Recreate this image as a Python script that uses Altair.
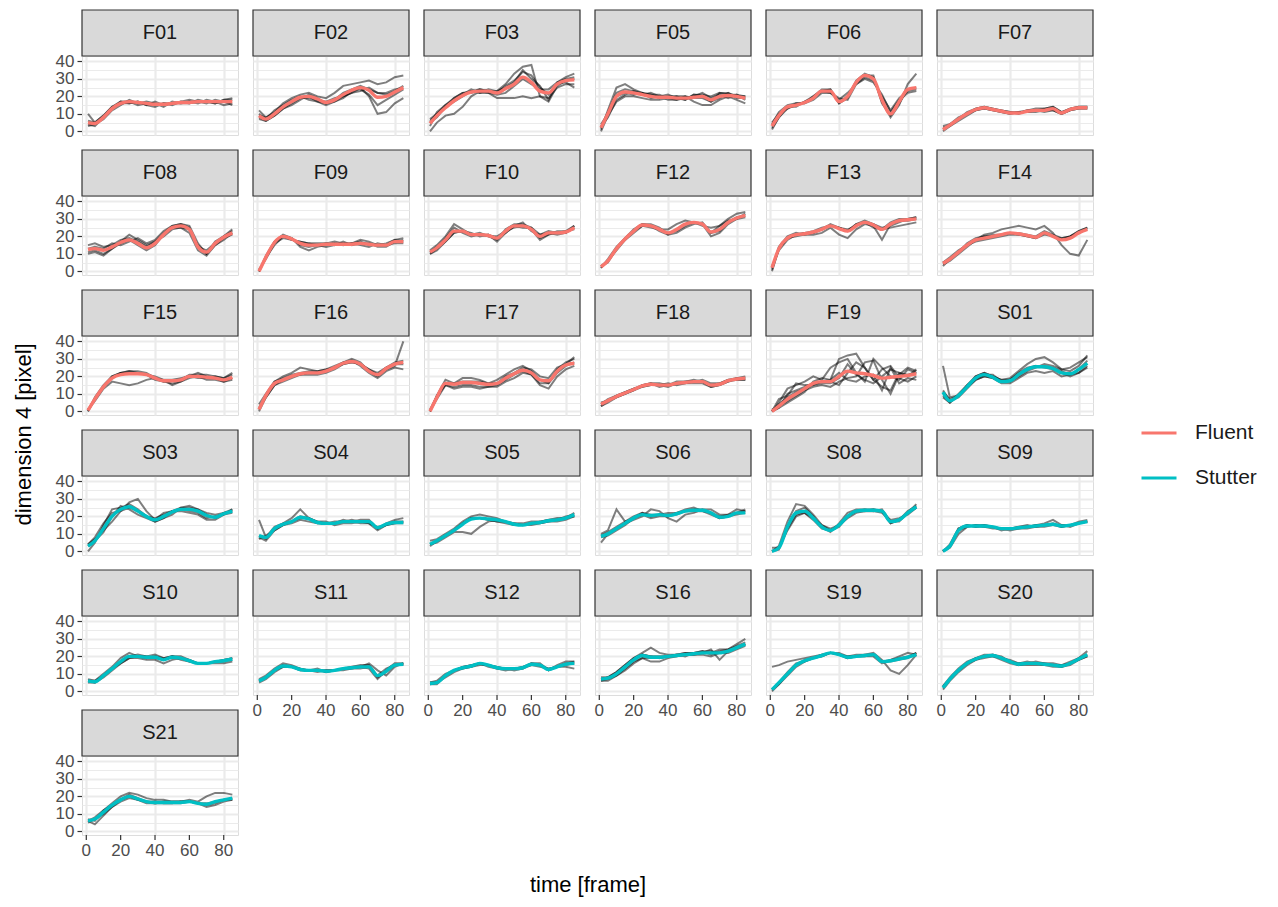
import altair as alt
import pandas as pd

X_FRAMES = [1, 5, 10, 15, 20, 25, 30, 35, 40, 45, 50, 55, 60, 65, 70, 75, 80, 85]
SUBJECTS = ["F01", "F02", "F03", "F05", "F06", "F07", "F08", "F09", "F10", "F12",
            "F13", "F14", "F15", "F16", "F17", "F18", "F19", "S01", "S03", "S04",
            "S05", "S06", "S08", "S09", "S10", "S11", "S12", "S16", "S19", "S20", "S21"]
GROUPS = ["Fluent", "Stutter"]
GROUP_COLORS = ["#F8766D", "#00BFC4"]
X_TICKS = [0, 10, 20, 30, 40, 50, 60, 70, 80]
X_LABELS = [0, 20, 40, 60, 80]
Y_TICKS = [0, 5, 10, 15, 20, 25, 30, 35, 40]

F01_MEAN = [5, 4.5, 8, 13, 16, 17, 16.5, 16, 15.5, 15.5, 16, 16.5, 16.5, 17, 17, 17, 17, 17]
F01_TRIALS = [[10, 5, 9, 14, 17, 16, 17, 15, 14, 16, 15, 17, 16, 18, 17, 16, 18, 19],
              [3, 4, 7, 12, 15, 18, 16, 17, 16, 14, 17, 16, 17, 16, 18, 17, 15, 16],
              [4, 3, 8, 13, 17, 17, 15, 16, 15, 16, 16, 17, 18, 17, 16, 18, 17, 15],
              [6, 5, 9, 14, 16, 16, 17, 15, 17, 15, 16, 16, 16, 17, 17, 16, 18, 18]]
F02_MEAN = [9, 7, 10, 14, 17, 19.5, 20, 18.5, 16.5, 18, 21, 23.5, 25, 23.5, 19.5, 20, 22.5, 25]
F02_TRIALS = [[12, 8, 11, 16, 19, 21, 22, 20, 19, 22, 26, 27, 28, 29, 27, 28, 31, 32],
              [8, 6, 9, 13, 16, 19, 20, 17, 15, 17, 20, 22, 25, 20, 10, 11, 16, 19],
              [10, 7, 12, 15, 18, 20, 18, 17, 16, 18, 22, 24, 26, 24, 22, 21, 23, 26],
              [7, 6, 9, 13, 15, 18, 21, 19, 16, 17, 19, 23, 24, 21, 15, 18, 21, 24],
              [9, 8, 10, 14, 17, 19, 19, 18, 17, 19, 20, 22, 23, 25, 22, 22, 24, 25]]
F03_MEAN = [4.5, 9, 13.5, 17.5, 20.5, 22.5, 23, 23, 22, 24.5, 27, 31, 28, 23, 22, 27, 29, 29.5]
F03_TRIALS = [[0, 5, 9, 10, 14, 20, 23, 22, 19, 19, 19, 20, 19, 20, 19, 25, 27, 27],
              [6, 10, 15, 19, 22, 23, 24, 23, 23, 27, 33, 37, 38, 20, 17, 26, 29, 30],
              [3, 11, 15, 18, 21, 24, 22, 24, 23, 25, 28, 35, 30, 26, 18, 28, 31, 33],
              [5, 8, 14, 19, 22, 22, 24, 23, 22, 26, 29, 34, 32, 25, 21, 27, 28, 25],
              [7, 10, 14, 17, 20, 23, 22, 22, 21, 22, 26, 30, 27, 24, 24, 28, 30, 31]]
F05_MEAN = [2, 10, 20, 22.5, 22, 21, 20, 19.5, 19.5, 19, 19, 19.5, 20, 18, 20, 20.5, 20, 19]
F05_TRIALS = [[1, 12, 25, 27, 24, 22, 21, 19, 20, 20, 18, 21, 20, 17, 22, 22, 20, 20],
              [3, 8, 18, 21, 23, 22, 21, 21, 19, 18, 19, 20, 22, 19, 21, 19, 21, 18],
              [0, 9, 17, 20, 20, 19, 18, 18, 19, 20, 20, 17, 15, 15, 18, 20, 18, 16],
              [2, 11, 22, 24, 23, 21, 22, 20, 21, 19, 18, 21, 21, 20, 22, 21, 21, 20],
              [4, 10, 20, 22, 21, 22, 19, 20, 18, 18, 20, 19, 19, 17, 19, 22, 19, 19]]
F06_MEAN = [3, 9, 14, 15, 16.5, 19, 23, 23, 17, 20, 28, 32, 30, 18, 10, 17, 24, 25]
F06_TRIALS = [[2, 8, 13, 15, 17, 20, 24, 24, 16, 19, 29, 33, 31, 17, 8, 15, 27, 33],
              [4, 11, 15, 16, 16, 18, 22, 22, 18, 22, 27, 31, 29, 20, 12, 19, 23, 24],
              [1, 8, 14, 14, 17, 19, 23, 24, 16, 20, 28, 32, 32, 16, 9, 16, 24, 25],
              [5, 10, 13, 16, 16, 20, 23, 22, 19, 18, 27, 30, 28, 21, 11, 18, 22, 23]]
F07_MEAN = [1, 3.5, 7, 10, 12.5, 13.5, 12.5, 11.5, 10.5, 10.5, 11.5, 12, 12, 13, 10.5, 12.5, 13.5, 13.5]
F07_TRIALS = [[3, 4, 7, 11, 13, 14, 13, 12, 11, 11, 12, 13, 13, 14, 11, 13, 14, 14],
              [0, 3, 6, 9, 12, 13, 12, 11, 10, 11, 11, 12, 11, 12, 10, 12, 13, 13],
              [1, 4, 8, 10, 13, 14, 13, 12, 11, 10, 12, 12, 13, 14, 11, 13, 14, 14],
              [2, 3, 7, 10, 12, 13, 12, 11, 10, 11, 11, 11, 12, 12, 10, 12, 13, 13]]
F08_MEAN = [12.5, 13, 12, 14, 16.5, 18, 16, 13.5, 16, 21, 25, 26, 24, 14, 11, 16, 19.5, 22]
F08_TRIALS = [[15, 16, 14, 15, 18, 19, 17, 14, 17, 22, 26, 27, 26, 16, 10, 17, 20, 23],
              [10, 11, 9, 13, 17, 21, 18, 15, 17, 20, 24, 25, 22, 12, 9, 15, 19, 21],
              [13, 14, 13, 16, 15, 17, 19, 16, 18, 23, 26, 27, 25, 14, 12, 16, 20, 24],
              [11, 12, 10, 13, 16, 18, 15, 12, 15, 21, 25, 25, 24, 15, 10, 15, 18, 22]]
F09_MEAN = [0, 8, 16.5, 20, 18.5, 16, 15, 15, 15.5, 15.5, 15.5, 15.5, 16, 15.5, 15, 15, 17, 17]
F09_TRIALS = [[0, 9, 17, 21, 19, 14, 12, 14, 15, 16, 15, 16, 17, 15, 15, 16, 18, 19],
              [1, 7, 16, 19, 18, 17, 16, 16, 16, 15, 17, 15, 16, 16, 14, 14, 17, 18],
              [0, 8, 17, 20, 19, 15, 14, 15, 16, 17, 16, 16, 18, 17, 15, 15, 16, 16],
              [0, 8, 15, 20, 18, 17, 16, 15, 14, 15, 15, 16, 15, 14, 16, 15, 18, 17]]
F10_MEAN = [11, 13.5, 18, 23, 23, 21, 21, 20.5, 19, 23, 26, 26, 24, 20, 22, 22, 22.5, 25]
F10_TRIALS = [[12, 15, 20, 27, 24, 21, 22, 20, 18, 24, 27, 27, 25, 19, 21, 22, 23, 26],
              [10, 13, 17, 22, 23, 22, 20, 21, 17, 22, 26, 28, 23, 21, 23, 22, 22, 25],
              [11, 14, 19, 25, 22, 20, 21, 20, 20, 23, 25, 26, 24, 18, 21, 23, 23, 24],
              [10, 12, 17, 22, 23, 21, 21, 21, 19, 22, 26, 25, 25, 21, 22, 21, 22, 26]]
F12_MEAN = [2.5, 6, 13, 18.5, 23, 26.5, 26, 24, 22, 24, 27, 28, 27, 22.5, 24, 28, 30.5, 32]
F12_TRIALS = [[2, 6, 13, 19, 23, 27, 27, 25, 21, 24, 27, 28, 27, 22, 26, 30, 33, 34],
              [3, 6, 12, 18, 23, 26, 25, 24, 24, 27, 29, 28, 27, 20, 22, 27, 30, 33],
              [2, 7, 14, 19, 24, 27, 26, 23, 21, 22, 25, 27, 28, 22, 23, 28, 31, 32],
              [3, 5, 13, 18, 22, 26, 26, 24, 22, 23, 26, 28, 26, 25, 26, 29, 30, 31]]
F13_MEAN = [2, 13, 19, 21, 21.5, 22.5, 24, 26, 24.5, 23, 26, 28, 26.5, 24, 27, 29, 29.5, 30]
F13_TRIALS = [[0, 13, 19, 21, 22, 22, 24, 27, 25, 23, 27, 29, 27, 24, 28, 30, 30, 31],
              [2, 14, 20, 22, 21, 21, 22, 25, 21, 19, 24, 27, 26, 18, 27, 29, 29, 30],
              [3, 12, 18, 21, 22, 23, 25, 26, 25, 24, 26, 28, 27, 25, 26, 28, 30, 31],
              [1, 13, 19, 20, 21, 22, 24, 26, 25, 23, 27, 28, 25, 24, 25, 26, 27, 28]]
F14_MEAN = [4.5, 7, 11, 15, 18, 19, 20, 21, 22, 21.5, 20.5, 19.5, 22, 20, 18, 19, 22, 24]
F14_TRIALS = [[5, 7, 11, 16, 19, 20, 20, 21, 22, 21, 20, 19, 22, 20, 18, 20, 23, 25],
              [4, 6, 10, 14, 18, 21, 22, 24, 25, 26, 25, 24, 26, 22, 15, 10, 9, 18],
              [5, 8, 12, 15, 17, 18, 19, 20, 21, 21, 20, 19, 21, 20, 19, 20, 22, 24],
              [3, 7, 11, 15, 18, 20, 21, 21, 22, 22, 21, 20, 23, 21, 19, 20, 23, 25]]
F15_MEAN = [0.5, 7, 14, 19, 21, 21.5, 21.5, 21, 19, 17.5, 17.5, 18, 20, 20, 19.5, 19, 18, 19.5]
F15_TRIALS = [[0, 7, 14, 19, 22, 23, 22, 21, 18, 17, 16, 17, 20, 22, 20, 19, 17, 18],
              [1, 6, 13, 17, 16, 15, 16, 18, 19, 17, 18, 19, 20, 19, 19, 20, 19, 21],
              [0, 8, 15, 20, 22, 22, 22, 21, 20, 18, 15, 17, 19, 20, 18, 18, 17, 19],
              [1, 7, 14, 20, 22, 23, 23, 22, 19, 18, 18, 18, 21, 21, 21, 20, 19, 22]]
F16_MEAN = [1, 9, 16, 18, 20, 21.5, 22, 22, 23, 25, 27.5, 28.5, 27, 23, 21, 24.5, 27, 28]
F16_TRIALS = [[4, 10, 17, 19, 21, 22, 23, 23, 24, 26, 28, 30, 28, 23, 20, 24, 26, 40],
              [0, 8, 15, 17, 19, 21, 22, 22, 23, 25, 27, 28, 27, 24, 21, 25, 27, 27],
              [1, 9, 17, 20, 22, 25, 24, 23, 24, 25, 28, 29, 26, 22, 19, 23, 25, 24],
              [2, 8, 15, 18, 20, 21, 21, 21, 22, 24, 27, 28, 27, 24, 22, 25, 28, 29]]
F17_MEAN = [0, 8, 16, 15.5, 16.5, 16.5, 16, 15.5, 16, 19, 21.5, 23.5, 22, 18, 17.5, 23, 26.5, 27.5]
F17_TRIALS = [[0, 9, 18, 16, 19, 19, 18, 16, 18, 21, 24, 26, 23, 18, 16, 24, 28, 30],
              [0, 7, 15, 14, 15, 15, 14, 14, 14, 17, 19, 22, 21, 16, 16, 22, 26, 28],
              [1, 8, 16, 16, 17, 17, 17, 16, 16, 20, 22, 25, 24, 20, 19, 25, 27, 31],
              [0, 9, 15, 13, 14, 14, 13, 14, 15, 18, 21, 23, 21, 15, 13, 20, 24, 26]]
F18_MEAN = [4, 6, 8.5, 10.5, 12.5, 14.5, 15.5, 15, 15, 16, 16.5, 17, 17, 15, 15.5, 17.5, 18.5, 19]
F18_TRIALS = [[3, 6, 8, 10, 12, 15, 16, 16, 15, 16, 17, 18, 17, 15, 16, 18, 18, 18],
              [5, 6, 9, 11, 13, 14, 15, 15, 14, 16, 16, 17, 17, 14, 15, 17, 19, 20],
              [4, 7, 9, 11, 13, 15, 16, 14, 15, 17, 17, 17, 18, 16, 16, 18, 19, 19],
              [3, 5, 8, 10, 12, 14, 15, 15, 16, 15, 16, 16, 16, 14, 15, 17, 18, 18]]
F19_MEAN = [0, 3, 7, 10, 13, 16, 17, 17, 20, 23, 22, 21.5, 20.5, 19, 19.5, 20, 20.5, 21.5]
F19_TRIALS = [[0, 2, 10, 12, 14, 16, 17, 18, 30, 32, 33, 25, 18, 14, 12, 22, 20, 24],
              [0, 5, 13, 15, 17, 20, 18, 25, 28, 30, 22, 17, 30, 25, 20, 18, 24, 22],
              [1, 3, 6, 9, 12, 14, 15, 14, 17, 19, 20, 28, 29, 18, 10, 21, 25, 23],
              [0, 7, 9, 16, 15, 15, 17, 17, 15, 22, 28, 25, 18, 24, 26, 19, 17, 20],
              [0, 2, 5, 8, 11, 17, 19, 18, 22, 18, 17, 20, 21, 12, 25, 16, 19, 18],
              [0, 4, 8, 11, 13, 15, 16, 16, 19, 27, 21, 18, 16, 20, 24, 22, 21, 22]]
S01_MEAN = [11, 6, 9, 14, 19, 21, 19.5, 17, 17.5, 21, 24, 25.5, 25.5, 24.5, 22, 21.5, 24, 27.5]
S01_TRIALS = [[26, 8, 9, 14, 20, 22, 20, 18, 19, 23, 27, 30, 31, 28, 24, 25, 28, 31],
              [9, 5, 9, 14, 18, 20, 19, 17, 18, 22, 25, 26, 26, 25, 23, 21, 22, 25],
              [12, 6, 8, 13, 18, 20, 19, 16, 16, 19, 22, 23, 22, 23, 20, 21, 24, 29],
              [8, 5, 10, 15, 20, 22, 20, 18, 18, 21, 24, 26, 25, 24, 22, 20, 22, 26],
              [11, 7, 9, 15, 19, 21, 21, 17, 17, 20, 23, 25, 27, 26, 24, 23, 26, 32]]
S03_MEAN = [3, 6, 13, 20, 24, 25.5, 23, 20, 18, 20, 22.5, 24, 24, 23, 20.5, 19.5, 21.5, 23]
S03_TRIALS = [[0, 5, 15, 24, 25, 27, 24, 20, 17, 19, 23, 25, 26, 24, 21, 19, 22, 24],
              [4, 7, 12, 17, 23, 28, 30, 23, 18, 22, 23, 23, 22, 21, 18, 18, 21, 22],
              [3, 6, 11, 20, 26, 24, 21, 19, 17, 19, 21, 25, 25, 24, 22, 21, 22, 23],
              [4, 8, 16, 22, 23, 25, 23, 20, 19, 21, 23, 24, 23, 22, 19, 20, 21, 24]]
S04_MEAN = [9, 8, 13, 15.5, 17, 19.5, 18.5, 16.5, 16, 16, 17, 17, 17, 17, 13.5, 15.5, 16.5, 16.5]
S04_TRIALS = [[18, 8, 14, 16, 19, 24, 19, 17, 16, 16, 18, 17, 18, 18, 13, 16, 18, 19],
              [8, 6, 12, 15, 16, 18, 17, 16, 16, 16, 17, 18, 17, 16, 14, 15, 16, 17],
              [9, 7, 13, 16, 17, 20, 19, 17, 17, 15, 16, 16, 17, 17, 13, 15, 17, 17],
              [7, 9, 12, 15, 17, 19, 19, 16, 16, 17, 17, 17, 16, 16, 12, 15, 16, 16]]
S05_MEAN = [4, 6, 9, 12, 15.5, 18.5, 19, 18.5, 18, 17, 15.5, 15, 16, 16.5, 17.5, 18, 19, 21]
S05_TRIALS = [[6, 7, 10, 13, 17, 20, 21, 20, 19, 17, 16, 16, 17, 17, 18, 18, 20, 21],
              [4, 5, 8, 11, 11, 10, 14, 17, 18, 17, 16, 15, 16, 16, 17, 18, 19, 22],
              [3, 6, 9, 12, 16, 19, 19, 18, 17, 16, 15, 15, 16, 17, 18, 19, 19, 20],
              [4, 6, 9, 12, 16, 19, 19, 18, 17, 17, 15, 15, 15, 16, 17, 17, 18, 20]]
S06_MEAN = [8.5, 10, 13, 16, 19, 21, 20.5, 21, 20.5, 21.5, 23, 23.5, 23.5, 22, 19.5, 20, 22, 22]
S06_TRIALS = [[10, 12, 24, 17, 19, 22, 20, 21, 20, 22, 23, 24, 24, 22, 19, 20, 22, 23],
              [5, 10, 13, 16, 18, 20, 24, 23, 19, 17, 21, 22, 24, 24, 21, 21, 24, 23],
              [8, 9, 12, 15, 19, 21, 19, 20, 20, 21, 23, 23, 23, 21, 19, 20, 21, 22],
              [9, 11, 14, 17, 20, 22, 21, 21, 22, 22, 24, 25, 23, 22, 20, 21, 22, 24]]
S08_MEAN = [0, 2, 14, 22, 23, 19, 14, 12, 15, 20, 23, 23.5, 23.5, 23, 17, 18, 22, 25.5]
S08_TRIALS = [[0, 3, 17, 27, 26, 21, 15, 12, 14, 20, 23, 24, 24, 23, 16, 18, 23, 26],
              [2, 2, 12, 20, 22, 19, 15, 13, 15, 19, 22, 23, 23, 22, 18, 19, 21, 25],
              [0, 1, 14, 23, 25, 20, 14, 11, 16, 22, 24, 24, 23, 24, 17, 17, 22, 27],
              [0, 2, 13, 21, 22, 18, 13, 12, 15, 20, 23, 23, 24, 23, 16, 18, 22, 25]]
S09_MEAN = [0, 3, 12, 14.5, 14.5, 14.5, 14, 13, 13, 13.5, 14, 14.5, 15, 15.5, 14.5, 15, 16, 17]
S09_TRIALS = [[0, 3, 13, 15, 14, 14, 14, 13, 13, 14, 14, 15, 16, 18, 15, 15, 16, 17],
              [0, 2, 10, 14, 15, 15, 14, 13, 12, 13, 14, 15, 15, 15, 14, 15, 16, 17],
              [0, 4, 13, 15, 14, 15, 14, 12, 13, 14, 15, 14, 15, 16, 14, 15, 17, 18],
              [0, 3, 12, 14, 15, 14, 13, 13, 13, 13, 13, 14, 14, 15, 15, 14, 16, 17]]
S10_MEAN = [6, 5.5, 9, 13, 17, 20, 20, 19.5, 19.5, 18, 19.5, 19, 17.5, 16, 16, 17, 17.5, 18.5]
S10_TRIALS = [[7, 6, 10, 14, 19, 22, 20, 20, 21, 19, 20, 20, 18, 16, 16, 17, 18, 19],
              [5, 5, 8, 12, 16, 19, 19, 18, 18, 16, 18, 19, 17, 16, 16, 16, 16, 17],
              [6, 6, 9, 13, 17, 20, 21, 20, 19, 18, 20, 19, 18, 16, 16, 17, 18, 19],
              [6, 5, 9, 13, 16, 19, 20, 19, 20, 19, 20, 18, 17, 16, 16, 17, 17, 18]]
S11_MEAN = [6, 8, 12, 14.5, 14, 12.5, 12, 12, 11.5, 12, 13, 13.5, 14, 14, 9, 11.5, 15, 15.5]
S11_TRIALS = [[7, 9, 13, 16, 15, 13, 12, 12, 12, 12, 13, 14, 15, 15, 8, 11, 15, 16],
              [6, 8, 12, 14, 14, 12, 12, 12, 11, 12, 13, 14, 14, 16, 12, 9, 14, 16],
              [5, 7, 11, 14, 14, 13, 12, 11, 12, 12, 13, 13, 14, 13, 7, 12, 16, 16],
              [6, 8, 12, 15, 14, 12, 12, 13, 11, 12, 12, 13, 13, 14, 9, 13, 15, 15]]
S12_MEAN = [4.5, 5, 9, 12, 13.5, 14.5, 16, 15, 13.5, 13, 13, 13.5, 15.5, 15, 12.5, 14, 15.5, 16]
S12_TRIALS = [[5, 5, 9, 12, 14, 15, 16, 15, 14, 13, 13, 13, 16, 15, 12, 15, 17, 17],
              [4, 5, 8, 11, 13, 14, 16, 15, 13, 13, 13, 14, 15, 14, 13, 14, 14, 13],
              [4, 4, 9, 12, 14, 15, 16, 14, 13, 12, 13, 14, 16, 16, 12, 14, 16, 17],
              [5, 6, 10, 12, 13, 14, 15, 15, 14, 13, 12, 13, 15, 15, 13, 14, 15, 16]]
S16_MEAN = [7, 7.5, 10, 14, 18, 20.5, 19.5, 19.5, 20, 20.5, 21, 21.5, 22, 22, 22, 23, 25, 27]
S16_TRIALS = [[8, 8, 11, 15, 19, 22, 25, 22, 21, 21, 22, 22, 23, 21, 23, 24, 27, 30],
              [6, 6, 9, 13, 17, 19, 17, 17, 19, 20, 21, 21, 22, 24, 18, 23, 25, 27],
              [7, 8, 10, 14, 18, 21, 20, 20, 20, 21, 20, 22, 22, 22, 24, 24, 26, 28],
              [6, 7, 9, 12, 16, 19, 19, 19, 20, 20, 21, 21, 21, 20, 22, 22, 24, 26],
              [7, 8, 11, 15, 19, 21, 20, 19, 20, 21, 22, 22, 23, 23, 22, 23, 25, 27]]
S19_MEAN = [1, 5, 10, 15, 17.5, 19, 20.5, 22, 21, 19.5, 20, 20.5, 21, 17, 17.5, 18.5, 19.5, 21]
S19_TRIALS = [[14, 15, 17, 18, 19, 20, 21, 22, 21, 19, 20, 20, 21, 17, 17, 18, 19, 22],
              [1, 4, 9, 14, 17, 19, 20, 22, 21, 20, 20, 21, 22, 18, 12, 10, 15, 21],
              [0, 4, 10, 15, 18, 19, 21, 22, 21, 19, 20, 20, 20, 16, 18, 20, 22, 21],
              [1, 5, 11, 16, 17, 19, 20, 22, 22, 20, 21, 21, 21, 17, 18, 19, 20, 22]]
S20_MEAN = [2, 7, 12, 16, 18.5, 20, 20.5, 19, 17, 15.5, 16, 16, 15.5, 15, 14.5, 16, 18.5, 21]
S20_TRIALS = [[3, 8, 13, 17, 19, 21, 21, 20, 17, 16, 16, 17, 16, 15, 15, 17, 19, 23],
              [1, 6, 11, 15, 18, 20, 20, 19, 17, 15, 16, 16, 15, 14, 14, 15, 18, 20],
              [2, 7, 12, 16, 19, 20, 21, 19, 18, 16, 17, 16, 16, 16, 15, 16, 19, 21],
              [3, 7, 12, 16, 18, 19, 20, 18, 16, 15, 15, 15, 15, 15, 14, 16, 18, 20]]
S21_MEAN = [6, 7, 11, 15, 18, 20, 18.5, 17, 16.5, 16.5, 16.5, 16.5, 17, 16, 15.5, 17, 18, 19]
S21_TRIALS = [[7, 6, 12, 16, 20, 22, 21, 19, 18, 18, 17, 17, 18, 17, 20, 22, 22, 21],
              [5, 7, 10, 14, 17, 19, 18, 16, 16, 16, 16, 16, 17, 16, 14, 15, 17, 18],
              [6, 4, 9, 14, 18, 21, 19, 17, 16, 17, 17, 17, 17, 16, 15, 16, 18, 19],
              [6, 8, 12, 15, 18, 20, 18, 17, 17, 16, 16, 17, 17, 16, 16, 17, 18, 18]]

# ---------------------------------------------------------------- table
NCOL = 6
BOTTOM = SUBJECTS[-NCOL:]          # last panel of every column carries the x axis
g = globals()
rows = []
for s in SUBJECTS:
    grp = GROUPS[0] if s.startswith("F") else GROUPS[1]
    for ti, tr in enumerate(g[s + "_TRIALS"]):
        for x, y in zip(X_FRAMES, tr):
            rows.append({"subject": s, "group": grp, "kind": "trial",
                         "trial": f"{s}_{ti}", "x": x, "y": y, "label": ""})
    for x, y in zip(X_FRAMES, g[s + "_MEAN"]):
        rows.append({"subject": s, "group": grp, "kind": "mean",
                     "trial": f"{s}_mean", "x": x, "y": y, "label": ""})
    rows.append({"subject": s, "group": grp, "kind": "strip",
                 "trial": f"{s}_strip", "x": 0, "y": 0, "label": ""})
    if s in BOTTOM:
        for t in X_LABELS:
            rows.append({"subject": s, "group": grp, "kind": "xtick",
                         "trial": f"{s}_xt", "x": t, "y": 0, "label": str(t)})
df = pd.DataFrame(rows)

FONT = "Liberation Sans"
W, H, STRIP = 156, 79, 46
TICK = 5
TICK_FS = 17

x_axis = alt.Axis(values=X_TICKS, title=None, domain=False, grid=True,
                  gridColor="#EBEBEB",
                  gridWidth={"condition": {"test": "datum.value % 20 === 0", "value": 2.2}, "value": 1.2},
                  labels=False, ticks=False)
y_axis = alt.Axis(values=Y_TICKS, title=None, domain=False, grid=True,
                  gridColor="#EBEBEB",
                  gridWidth={"condition": {"test": "datum.value % 10 === 0", "value": 2.2}, "value": 1.2},
                  tickOpacity={"condition": {"test": "datum.value % 10 === 0", "value": 1}, "value": 0},
                  labelExpr="datum.value % 10 === 0 ? datum.label : ''",
                  tickColor="#333333", tickSize=TICK, tickWidth=1.2,
                  labelColor="#4D4D4D", labelFontSize=TICK_FS, labelFont=FONT,
                  labelPadding=3, labelOverlap=False, labelFlush=False)

X = alt.X("x:Q", scale=alt.Scale(domain=[-2.5, 88.3], nice=False, zero=False), axis=x_axis)
Y = alt.Y("y:Q", scale=alt.Scale(domain=[-2.1, 43.1], nice=False, zero=False), axis=y_axis)

base = alt.Chart()
trials = base.mark_line(color="black", opacity=0.5, strokeWidth=2).encode(
    x=X, y=Y, detail="trial:N").transform_filter("datum.kind === 'trial'")
means = base.mark_line(strokeWidth=3.4, interpolate="monotone").encode(
    x=X, y=Y,
    color=alt.Color("group:N", scale=alt.Scale(domain=GROUPS, range=GROUP_COLORS),
                    legend=alt.Legend(title=None, orient="none", legendX=1058, legendY=358,
                                      symbolType="stroke", symbolSize=1225,
                                      symbolStrokeWidth=3, labelFontSize=21,
                                      labelFont=FONT, labelColor="#1A1A1A",
                                      labelOffset=17, rowPadding=16)),
    detail="trial:N").transform_filter("datum.kind === 'mean'")
strip_rect = base.mark_rect(fill="#D9D9D9", stroke="#333333", strokeWidth=1.2).encode(
    x=alt.value(0), x2=alt.value(W), y=alt.value(-STRIP), y2=alt.value(0)
).transform_filter("datum.kind === 'strip'")
strip_text = base.mark_text(fontSize=20, font=FONT, color="#1A1A1A", baseline="middle",
                            align="center").encode(
    text="subject:N", x=alt.value(W / 2), y=alt.value(-STRIP / 2)
).transform_filter("datum.kind === 'strip'")
xtick_rule = base.mark_rule(color="#333333", strokeWidth=1.2).encode(
    x="x:Q", y=alt.value(H), y2=alt.value(H + TICK)
).transform_filter("datum.kind === 'xtick'")
xtick_text = base.mark_text(fontSize=TICK_FS, font=FONT, color="#4D4D4D", baseline="top",
                            align="center").encode(
    x="x:Q", y=alt.value(H + TICK + 3), text="label:N"
).transform_filter("datum.kind === 'xtick'")

layered = alt.layer(trials, means, strip_rect, strip_text, xtick_rule, xtick_text
                    ).properties(width=W, height=H)

chart = layered.facet(
    facet=alt.Facet("subject:N", title="time [frame]",
                    header=alt.Header(labels=False, labelFontSize=0.1, labelPadding=0,
                                      labelColor="transparent", labelExpr="''",
                                      titleOrient="bottom",
                                      titleFontSize=22, titleFontWeight="normal",
                                      titleFont=FONT, titleColor="#000000",
                                      titlePadding=40)),
    columns=NCOL, data=df, spacing=alt.RowColnumber(row=61, column=15),
).properties(
    bounds="flush",
    title=alt.TitleParams("dimension 4 [pixel]", orient="left", anchor="middle",
                          fontSize=22, fontWeight="normal", font=FONT,
                          color="#000000", offset=19, dx=18),
    padding={"left": 5, "top": 0, "right": 5, "bottom": 5},
).configure_header(labels=False, labelFontSize=0.1, labelPadding=0
).configure_view(stroke="#333333", strokeWidth=1.2, fill="white"
).configure(background="white")

chart.save("out.html", embed_options={"renderer": "svg", "actions": False})
